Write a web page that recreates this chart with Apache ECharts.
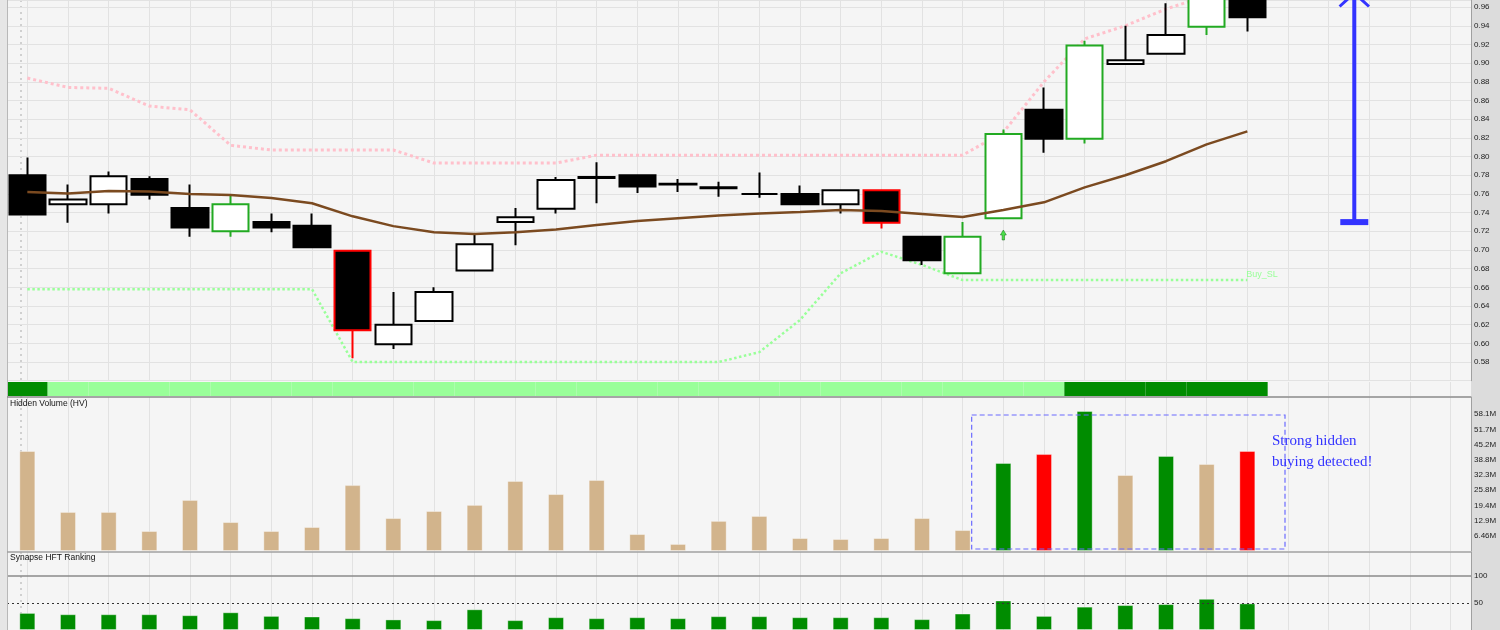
<!DOCTYPE html>
<html><head><meta charset="utf-8">
<script src="https://cdn.jsdelivr.net/npm/echarts@6/dist/echarts.min.js"></script>
<style>html,body{margin:0;padding:0;background:#f5f5f5}#c{width:1500px;height:630px}</style>
</head><body><div id="c"></div>
<script>
// ---------- DATA ----------
const categories = ['D01','D02','D03','D04','D05','D06','D07','D08','D09','D10','D11','D12','D13','D14','D15','D16','D17','D18','D19','D20','D21','D22','D23','D24','D25','D26','D27','D28','D29','D30','D31','D32','D33','D34','D35','D36'];
const openP  = [0.780,0.749,0.749,0.776,0.745,0.720,0.730,0.726,0.699,0.599,0.624,0.678,0.730,0.744,0.777,0.780,0.770,0.766,0.760,0.760,0.749,0.764,0.714,0.675,0.734,0.850,0.819,0.899,0.910,0.939,0.972];
const closeP = [0.738,0.754,0.779,0.759,0.724,0.749,0.724,0.703,0.614,0.620,0.655,0.706,0.735,0.775,0.778,0.768,0.771,0.767,0.760,0.749,0.764,0.729,0.689,0.714,0.824,0.819,0.919,0.903,0.930,0.980,0.949];
const lowP   = [0.738,0.729,0.739,0.754,0.714,0.714,0.719,0.703,0.584,0.594,0.624,0.678,0.705,0.739,0.750,0.761,0.762,0.757,0.756,0.749,0.739,0.723,0.684,0.675,0.734,0.804,0.814,0.899,0.910,0.930,0.934];
const highP  = [0.799,0.770,0.784,0.779,0.770,0.760,0.739,0.739,0.699,0.655,0.660,0.717,0.745,0.778,0.794,0.780,0.776,0.773,0.783,0.769,0.764,0.764,0.714,0.730,0.829,0.874,0.924,0.940,0.964,0.990,0.980];
const candleMark = ['','','','','','g','','','r','','','','','','','','','','','','','r','','g','g','','g','','','g',''];
const maLine = [0.762,0.7605,0.763,0.7625,0.760,0.7587,0.7555,0.750,0.736,0.7255,0.719,0.717,0.719,0.722,0.7266,0.731,0.734,0.737,0.739,0.7405,0.7427,0.7416,0.7384,0.7352,0.7427,0.751,0.767,0.780,0.795,0.813,0.827];
const resistance = [0.884,0.874,0.873,0.854,0.850,0.812,0.807,0.807,0.807,0.807,0.793,0.793,0.793,0.793,0.8015,0.8015,0.8015,0.8015,0.8015,0.8015,0.8015,0.8015,0.8015,0.8015,0.826,0.880,0.926,0.940,0.958,0.972,0.985];
const buySL = [0.658,0.658,0.658,0.658,0.658,0.658,0.658,0.658,0.580,0.580,0.580,0.580,0.580,0.580,0.580,0.580,0.580,0.580,0.5906,0.625,0.675,0.698,0.684,0.6677,0.6677,0.6677,0.6677,0.6677,0.6677,0.6677,0.6677];
const buySignalPoints = [[24, 0.716]];
const targetRange = [0.7298, 0.975];
const trendStrength = [2,1,1,1,1,1,1,1,1,1,1,1,1,1,1,1,1,1,1,1,1,1,1,1,1,1,2,2,2,2,2];
const hiddenVolume = [42.5,16.6,16.6,8.5,21.7,12.3,8.5,10.2,28.0,14.0,17.0,19.6,29.8,24.2,30.2,7.2,3.0,12.8,14.9,5.5,5.1,5.5,14.0,8.9,37.4,41.2,59.5,32.3,40.4,37.0,42.5];
const hvSignal = [0,0,0,0,0,0,0,0,0,0,0,0,0,0,0,0,0,0,0,0,0,0,0,0,1,-1,1,0,1,0,-1];
const hftRank = [31.5,29.1,29.1,29.1,27.3,32.7,26.0,24.9,21.8,19.5,18.2,38.2,18.2,23.6,21.8,23.6,21.8,25.5,25.5,23.6,23.6,23.6,20.0,30.4,54.5,26.0,43.1,46.0,47.8,57.6,49.1];
const noteText = ['Strong hidden', 'buying detected!'];

// ---------- CHART ----------
const chart = echarts.init(document.getElementById('c'), null, {renderer: 'canvas'});
const GREEN_EDGE = '#22aa22', RED_EDGE = '#ff0000';
const candleData = openP.map((o, i) => {
  const item = {value: [o, closeP[i], lowP[i], highP[i]]};
  if (candleMark[i] === 'g') item.itemStyle = {borderColor: GREEN_EDGE};
  if (candleMark[i] === 'r') item.itemStyle = {borderColor0: RED_EDGE};
  return item;
});
const stripData = trendStrength.map(v => ({value: 1, itemStyle: {color: v === 2 ? '#008c00' : '#99ff99'}}));
const hvColor = s => s === 1 ? '#008c00' : (s === -1 ? '#ff0000' : '#d2b48c');
const hvData = hiddenVolume.map((v, i) => ({value: v * 1e6, itemStyle: {color: hvColor(hvSignal[i])}}));

const L = 7, R = 29;
const gridLineColor = '#e2e2e2';
function xAx(g) {
  return {type: 'category', gridIndex: g, data: categories, boundaryGap: true,
    axisLine: {show: false}, axisTick: {show: false, alignWithLabel: true}, axisLabel: {show: false, interval: 0},
    splitLine: {show: true, interval: 0, alignWithLabel: true, lineStyle: {color: gridLineColor, width: 1}}};
}
const labelStyle = {color: '#222', fontSize: 8, fontFamily: 'Liberation Sans', margin: 3};

chart.setOption({
  animation: false,
  backgroundColor: '#f5f5f5',
  textStyle: {fontFamily: 'Liberation Sans'},
  grid: [
    {left: L, right: R, top: 0, height: 380.7},
    {left: L, right: R, top: 382, height: 14},
    {left: L, right: R, top: 397, height: 154},
    {left: L, right: R, top: 552, height: 78}
  ],
  xAxis: [xAx(0), xAx(1), xAx(2), xAx(3)],
  yAxis: [
    {gridIndex: 0, type: 'value', position: 'right', min: 0.56, max: 0.9676, interval: 0.02,
      axisLine: {show: true, lineStyle: {color: '#a0a0a0'}}, axisTick: {show: false},
      axisLabel: Object.assign({showMinLabel: false, showMaxLabel: false, formatter: v => v.toFixed(2)}, labelStyle),
      splitLine: {show: true, lineStyle: {color: gridLineColor}}},
    {gridIndex: 1, type: 'value', min: 0, max: 1, show: false},
    {gridIndex: 2, type: 'value', position: 'right', min: 0, max: 65.45e6, interval: 6.46e6,
      axisLine: {show: true, lineStyle: {color: '#a0a0a0'}}, axisTick: {show: false},
      axisLabel: Object.assign({showMinLabel: false, showMaxLabel: false, formatter: v => v > 60e6 ? '' : (v / 1e6).toPrecision(3) + 'M'}, labelStyle),
      splitLine: {show: false}},
    {gridIndex: 3, type: 'value', position: 'right', min: 0, max: 144, interval: 50,
      axisLine: {show: true, lineStyle: {color: '#a0a0a0'}}, axisTick: {show: false},
      axisLabel: Object.assign({showMinLabel: false, showMaxLabel: false}, labelStyle),
      splitLine: {show: false}}
  ],
  series: [
    {type: 'line', name: 'Resistance', xAxisIndex: 0, yAxisIndex: 0, data: resistance, symbol: 'none', z: 1, clip: false,
      lineStyle: {color: '#ffc0cb', width: 3, type: 'dotted'}},
    {type: 'line', name: 'Buy_SL', xAxisIndex: 0, yAxisIndex: 0, data: buySL, symbol: 'none', z: 1,
      lineStyle: {color: '#99ff99', width: 2.5, type: 'dotted'},
      endLabel: {show: true, formatter: 'Buy_SL', color: '#99ff99', fontSize: 9, offset: [-3, -6], distance: 2}},
    {type: 'candlestick', name: 'Price', xAxisIndex: 0, yAxisIndex: 0, data: candleData, barWidth: 37, z: 3, clip: false,
      itemStyle: {color: '#ffffff', color0: '#000000', borderColor: '#000000', borderColor0: '#000000', borderWidth: 2}},
    {type: 'line', name: 'MA', xAxisIndex: 0, yAxisIndex: 0, data: maLine, symbol: 'none', z: 4,
      lineStyle: {color: '#7b4a20', width: 2.5}},
    {type: 'scatter', name: 'Buy', xAxisIndex: 0, yAxisIndex: 0, data: buySignalPoints, z: 5,
      symbol: 'path://M5,0 L10,5 L7,5 L7,10 L3,10 L3,5 L0,5 Z', symbolSize: [6, 10],
      itemStyle: {color: '#22dd22', borderColor: '#116611', borderWidth: 0.6}},
    {type: 'bar', name: 'Trend', xAxisIndex: 1, yAxisIndex: 1, data: stripData, barWidth: '100%', barCategoryGap: '0%'},
    {type: 'bar', name: 'Hidden Volume (HV)', xAxisIndex: 2, yAxisIndex: 2, data: hvData, barWidth: 16,
      itemStyle: {borderColor: 'rgba(255,255,255,0.35)', borderWidth: 1}},
    {type: 'bar', name: 'Synapse HFT Ranking', xAxisIndex: 3, yAxisIndex: 3, data: hftRank, barWidth: 16,
      itemStyle: {color: '#008c00', borderColor: 'rgba(255,255,255,0.35)', borderWidth: 1},
      markLine: {silent: true, symbol: 'none', label: {show: false},
        data: [
          {yAxis: 100, lineStyle: {color: '#8a8a8a', width: 1.5, type: 'solid'}},
          {yAxis: 50, lineStyle: {color: '#333', width: 1, type: [2, 3]}}
        ]}}
  ]
});

// ---------- ANNOTATIONS (positions derived from data via the axes) ----------
const P = (g, x, y) => chart.convertToPixel({gridIndex: g}, [x, y]);
const c31 = P(2, 31, 0), c23 = P(2, 23, 0);
const boxTop = P(2, 31, 57.8e6)[1], boxBot = P(2, 31, 0.85e6)[1];
const boxL = c23[0] + 9, boxR = c31[0] - 3;
const x32 = P(0, 32, 0.7)[0], x33 = P(0, 33, 0.7)[0];
const ax = x32 + (x33 - x32) * 0.63;
const yBot = P(0, 32, targetRange[0])[1], yTop = P(0, 32, targetRange[1])[1];
const blue = '#3333ff';
const sepY1 = P(2, 0, 65.45e6)[1];
const sepY2 = P(3, 0, 144)[1];
chart.setOption({
  graphic: [
    {type: 'rect', z: -10, silent: true, shape: {x: 0, y: 0, width: L, height: 630}, style: {fill: '#e6e6e6'}},
    {type: 'line', z: 10, silent: true, shape: {x1: L + 0.5, y1: 0, x2: L + 0.5, y2: 630}, style: {stroke: '#b8b8b8', lineWidth: 1}},
    {type: 'rect', z: -10, silent: true, shape: {x: 1500 - R, y: 0, width: R, height: 630}, style: {fill: '#dcdcdc'}},
    {type: 'line', z: -5, silent: true, shape: {x1: 21, y1: 0, x2: 21, y2: 630}, style: {stroke: '#c4c4c4', lineWidth: 1.5, lineDash: [2, 4]}},
    {type: 'line', z: 10, silent: true, shape: {x1: L, y1: sepY1, x2: 1500 - R, y2: sepY1}, style: {stroke: '#8a8a8a', lineWidth: 1.5}},
    {type: 'line', z: 10, silent: true, shape: {x1: L, y1: sepY2, x2: 1500 - R, y2: sepY2}, style: {stroke: '#a0a0a0', lineWidth: 1.5}},
    {type: 'text', z: 10, silent: true, style: {x: 10, y: sepY1 + 7, text: 'Hidden Volume (HV)', fill: '#111', font: '8.5px "Liberation Sans"', textVerticalAlign: 'middle'}},
    {type: 'text', z: 10, silent: true, style: {x: 10, y: sepY2 + 6, text: 'Synapse HFT Ranking', fill: '#111', font: '8.5px "Liberation Sans"', textVerticalAlign: 'middle'}},
    {type: 'rect', z: 10, silent: true, shape: {x: boxL, y: boxTop, width: boxR - boxL, height: boxBot - boxTop},
      style: {fill: 'none', stroke: '#6b6bff', lineWidth: 1.2, lineDash: [5, 3]}},
    {type: 'text', z: 11, silent: true, style: {x: c31[0] - 16, y: 441, text: noteText[0], fill: blue, font: '15px "Liberation Serif"', textVerticalAlign: 'middle'}},
    {type: 'text', z: 11, silent: true, style: {x: c31[0] - 16, y: 462, text: noteText[1], fill: blue, font: '15px "Liberation Serif"', textVerticalAlign: 'middle'}},
    {type: 'line', z: 11, silent: true, shape: {x1: ax, y1: yBot, x2: ax, y2: yTop}, style: {stroke: blue, lineWidth: 4}},
    {type: 'line', z: 11, silent: true, shape: {x1: ax - 14, y1: yBot, x2: ax + 14, y2: yBot}, style: {stroke: blue, lineWidth: 6}},
    {type: 'polyline', z: 11, silent: true, shape: {points: [[ax - 14.7, yTop + 13.4], [ax, yTop], [ax + 14.7, yTop + 13.4]]}, style: {stroke: blue, lineWidth: 3, fill: 'none'}}
  ]
});
</script>
</body></html>
